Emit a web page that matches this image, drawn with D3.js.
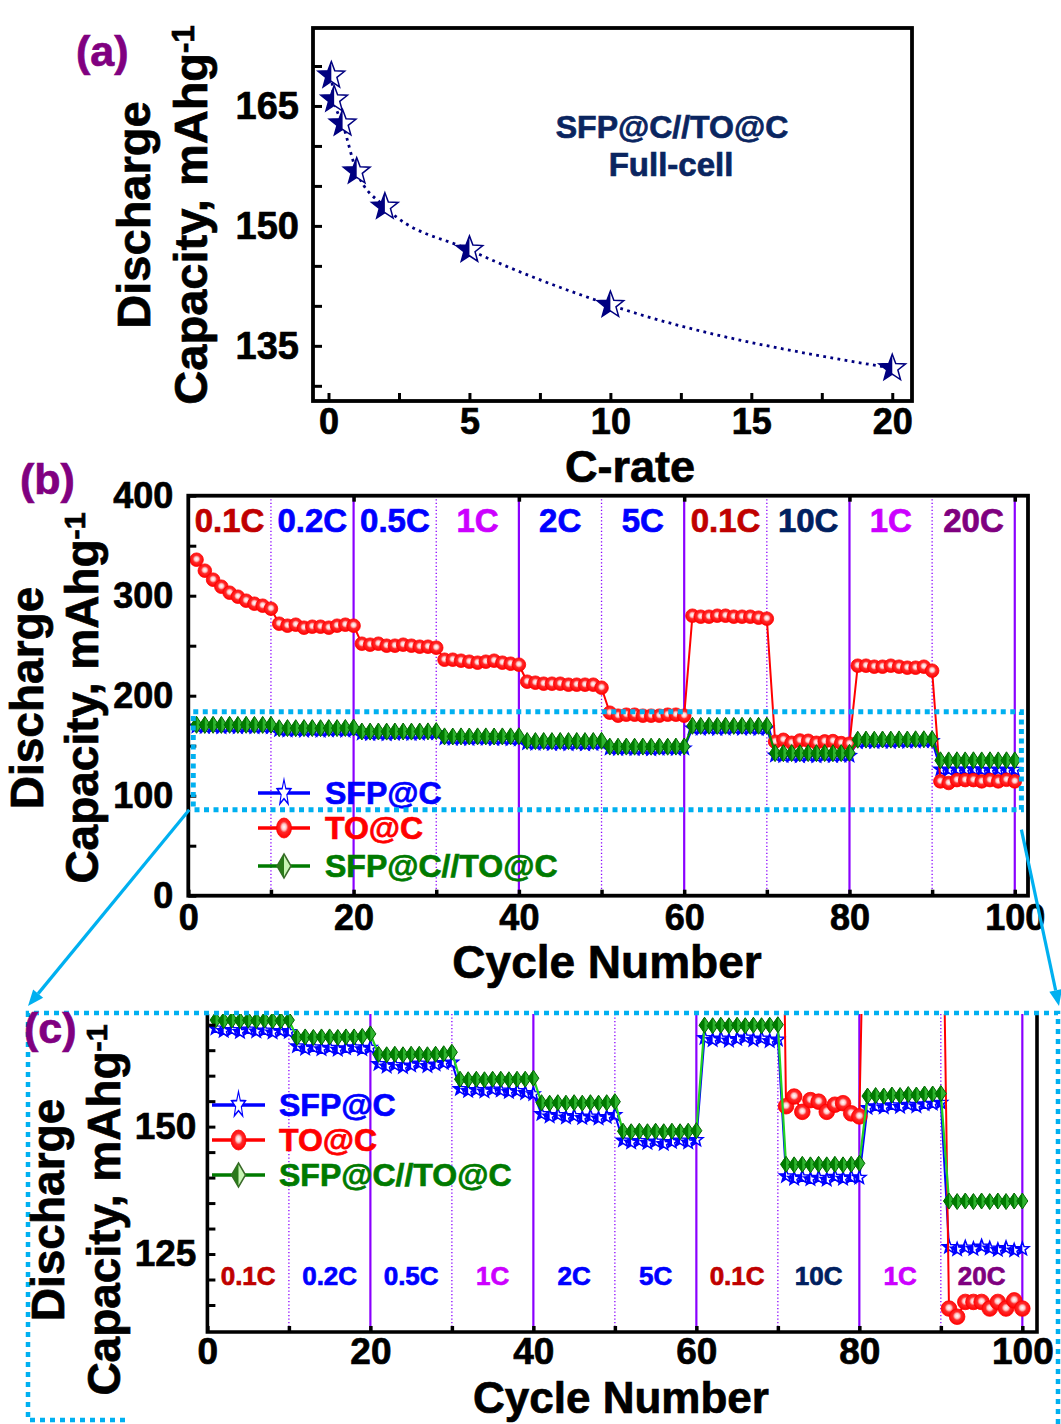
<!DOCTYPE html>
<html>
<head>
<meta charset="utf-8">
<script src="https://cdnjs.cloudflare.com/ajax/libs/d3/7.8.5/d3.min.js"></script>
<style>
  body { margin: 0; background: #fff; }
  text { font-family: "Liberation Sans", Arial, sans-serif; font-weight: bold; }
</style>
</head>
<body>
<div id="chart"></div>
<script>
// ---- data ----
var cRate = [0.1, 0.2, 0.5, 1, 2, 5, 10, 20]
var cRateCap = [168.8, 165.8, 162.8, 156.8, 152.4, 147.0, 140.1, 132.2]

var cycles = d3.range(1, 101)

var sfp = [169.3,168.8,169.0,168.6,169.1,168.7,168.9,168.5,168.8,168.6,
           165.8,165.3,165.6,165.2,165.5,165.1,165.4,165.6,165.2,165.5,
           162.3,161.8,162.1,161.7,162.0,162.4,161.9,162.2,162.5,162.6,
           157.4,157.0,157.2,156.9,157.3,157.1,156.8,157.0,156.6,156.4,
           152.5,152.0,152.3,151.8,152.1,151.7,152.0,151.6,151.9,152.3,
           147.3,146.9,147.2,146.8,147.1,146.6,147.0,147.3,146.9,147.4,
           167.4,167.0,167.3,166.9,167.2,167.5,167.0,167.3,166.8,167.1,
           140.3,139.8,140.1,139.7,140.0,139.6,140.2,139.8,140.1,140.0,
           153.7,154.0,153.8,154.2,153.9,154.3,154.0,154.4,154.5,154.7,
           126.4,125.9,126.3,126.0,126.5,126.1,125.8,126.2,125.7,126.0]

var toc = [336,325,316,309,303,299,295,292,290,287,
           272,270,271,268,269,269,268,270,271,270,
           252,251,252,250,250,251,250,249,249,248,
           236,236,235,234,233,234,235,233,232,231,
           214,213,212,212,212,211,211,211,211,208,
           183,180,181,181,180,180,180,181,181,180,
           280,279,279,280,280,279,279,279,278,277,
           154.0,155.9,152.9,155.2,154.9,152.9,154.3,154.6,152.6,152.0,
           230,230,229,229,230,229,228,228,229,225,
           114.3,112.7,115.6,115.6,115.6,114.3,115.6,114.3,115.9,114.3]

var full = [170.9,170.8,170.9,170.8,170.9,170.8,170.9,170.8,170.8,170.9,
            167.5,167.6,167.5,167.6,167.6,167.5,167.6,167.6,167.7,168.2,
            164.2,164.1,164.2,164.1,164.2,164.2,164.1,164.2,164.3,164.6,
            159.3,159.2,159.3,159.2,159.3,159.3,159.2,159.3,159.3,159.5,
            154.7,154.6,154.7,154.6,154.7,154.6,154.7,154.6,154.7,154.9,
            149.1,149.0,149.1,149.0,149.1,149.0,149.1,149.0,149.1,149.2,
            169.9,169.8,169.9,169.8,169.9,169.8,169.9,169.8,169.9,170.0,
            142.6,142.5,142.6,142.5,142.6,142.5,142.6,142.5,142.6,142.8,
            156.0,156.1,156.0,156.2,156.1,156.3,156.2,156.4,156.4,156.5,
            135.4,135.3,135.4,135.3,135.4,135.3,135.4,135.3,135.4,135.4]

var rateLabels = ["0.1C", "0.2C", "0.5C", "1C", "2C", "5C", "0.1C", "10C", "1C", "20C"]
var stageEdges = [10, 20, 30, 40, 50, 60, 70, 80, 90, 100]
var seriesNames = ["SFP@C", "TO@C", "SFP@C//TO@C"]

var aTicksX = [0, 5, 10, 15, 20]
var aMinorX = [0, 2.5, 5, 7.5, 10, 12.5, 15, 17.5, 20]
var aTicksY = [135, 150, 165]
var aMinorY = [130, 135, 140, 145, 150, 155, 160, 165, 170]
var bTicksY = [0, 100, 200, 300, 400]
var bMinorY = [0, 50, 100, 150, 200, 250, 300, 350, 400]
var cycleTicks = [0, 20, 40, 60, 80, 100]
var cycleMinor = [0, 10, 20, 30, 40, 50, 60, 70, 80, 90, 100]
var cTicksY = [125, 150]
var cMinorY = [115, 120, 125, 130, 135, 140, 145, 150, 155, 160, 165, 170]

// zoomed window of (b) shown in (c), in data units
var zoomWin = { x0: 0.6, x1: 100.8, y0: 86, y1: 184 }

// ---- styles ----
var rateColors = ["#c00000", "#0000ff", "#0000ff", "#cc00ff", "#0000ff", "#0000ff", "#c00000", "#002060", "#cc00ff", "#7f007f"]
var blue = "#0000ff", red = "#ff0000", green = "#007a00", navy = "#000080", violet = "#8a00ff", cyan = "#00b0f0"

var svg = d3.select("#chart").append("svg")
    .attr("width", 1061)
    .attr("height", 1424)

var defs = svg.append("defs")
defs.append("clipPath").attr("id", "leftHalf")
    .append("rect").attr("x", -60).attr("y", -60).attr("width", 60).attr("height", 120)
var grad = defs.append("radialGradient").attr("id", "ball")
    .attr("cx", "50%").attr("cy", "45%").attr("r", "55%")
grad.append("stop").attr("offset", "0%").attr("stop-color", "#ffffff")
grad.append("stop").attr("offset", "28%").attr("stop-color", "#ffc8c8")
grad.append("stop").attr("offset", "50%").attr("stop-color", "#ff2a2a")
grad.append("stop").attr("offset", "100%").attr("stop-color", "#ff0000")

function starPath(R) {
    var pts = []
    for (var i = 0; i < 10; i++) {
        var r = i % 2 ? R * 0.42 : R
        var a = -Math.PI / 2 + i * Math.PI / 5
        pts.push([r * Math.cos(a), r * Math.sin(a)])
    }
    return "M" + pts.join("L") + "Z"
}
function diamondPath(w, h) {
    return "M0," + (-h) + "L" + w + ",0L0," + h + "L" + (-w) + ",0Z"
}

function addStar(g, R, color, open) {
    g.append("path").attr("d", starPath(R)).attr("fill", "#fff")
        .attr("stroke", color).attr("stroke-width", 1.5).attr("stroke-linejoin", "miter")
    if (!open)
        g.append("path").attr("d", starPath(R)).attr("fill", color).attr("clip-path", "url(#leftHalf)")
}
function addBall(g, rx, ry) {
    g.append("ellipse").attr("rx", rx).attr("ry", ry).attr("fill", "url(#ball)")
        .attr("stroke", "#ff0000").attr("stroke-width", 0.8)
}
function addDiamond(g, w, h, light) {
    g.append("path").attr("d", diamondPath(w, h)).attr("fill", light)
        .attr("stroke", "#006400").attr("stroke-width", 1)
    g.append("path").attr("d", diamondPath(w, h)).attr("fill", green).attr("clip-path", "url(#leftHalf)")
}

function styleAxis(g, size, width) {
    g.select(".domain").remove()
    g.attr("font-family", null).attr("font-size", null)
    g.selectAll(".tick line").attr("stroke", "#000").attr("stroke-width", width)
    g.selectAll(".tick text").attr("fill", "#000").style("font-size", size + "px")
}

function yTitle(x1, x2, cy, size) {
    svg.append("text").attr("transform", "translate(" + x1 + "," + cy + ") rotate(-90)")
        .attr("text-anchor", "middle").style("font-size", size + "px").text("Discharge")
    var t = svg.append("text").attr("transform", "translate(" + x2 + "," + cy + ") rotate(-90)")
        .attr("text-anchor", "middle").style("font-size", size + "px")
    t.append("tspan").text("Capacity, mAhg")
    t.append("tspan").attr("dy", "-0.42em").style("font-size", (size * 0.66) + "px").text("-1")
}

function panelLetter(txt, x, y) {
    svg.append("text").attr("x", x).attr("y", y).attr("fill", "#800080")
        .style("font-size", "43px").text(txt)
}

// ================= (a) =================
var ax = d3.scaleLinear().domain([-0.55, 20.7]).range([313, 912])
var ay = d3.scaleLinear().domain([128.1, 174.75]).range([401, 28])

var ga = svg.append("g")
var aLine = d3.line()
    .x(function (d, i) { return ax(cRate[i]) })
    .y(function (d) { return ay(d) })
    .curve(d3.curveMonotoneX)
ga.append("path").datum(cRateCap).attr("d", aLine)
    .attr("fill", "none").attr("stroke", navy).attr("stroke-width", 2.8)
    .attr("stroke-dasharray", "2.8,4.4")
ga.selectAll(".astar").data(cRateCap).enter().append("g")
    .attr("transform", function (d, i) { return "translate(" + ax(cRate[i]) + "," + ay(d) + ")" })
    .each(function () { addStar(d3.select(this), 14, navy, false) })

ga.append("text").attr("x", 672).attr("y", 138).attr("text-anchor", "middle")
    .attr("fill", "#0a2560").style("font-size", "32px").text("SFP@C//TO@C")
ga.append("text").attr("x", 671).attr("y", 176).attr("text-anchor", "middle")
    .attr("fill", "#0a2560").style("font-size", "33px").text("Full-cell")

ga.append("rect").attr("x", 313).attr("y", 28).attr("width", 599).attr("height", 373)
    .attr("fill", "none").attr("stroke", "#000").attr("stroke-width", 3.8)

var axB = ga.append("g").attr("transform", "translate(0,401)")
    .call(d3.axisBottom(ax).tickValues(aMinorX).tickSize(-8).tickFormat(""))
styleAxis(axB, 38, 3)
var axBL = ga.append("g").attr("transform", "translate(0,401)")
    .call(d3.axisBottom(ax).tickValues(aTicksX).tickSize(0).tickPadding(7))
styleAxis(axBL, 36, 0)
var ayL = ga.append("g").attr("transform", "translate(313,0)")
    .call(d3.axisLeft(ay).tickValues(aMinorY).tickSize(-9).tickFormat(""))
styleAxis(ayL, 38, 3)
var ayLL = ga.append("g").attr("transform", "translate(313,0)")
    .call(d3.axisLeft(ay).tickValues(aTicksY).tickSize(0).tickPadding(14))
styleAxis(ayLL, 38, 0)

svg.append("text").attr("x", 630).attr("y", 482).attr("text-anchor", "middle")
    .style("font-size", "45px").text("C-rate")
yTitle(150, 207, 215, 47)
panelLetter("(a)", 76, 66)

// ========== shared drawing for (b) and (c) ==========
function drawCycling(cfg) {
    var x = d3.scaleLinear().domain(cfg.xd).range([cfg.left, cfg.right])
    var y = d3.scaleLinear().domain(cfg.yd).range([cfg.bottom, cfg.top])
    var g = svg.append("g")

    defs.append("clipPath").attr("id", cfg.id)
        .append("rect").attr("x", cfg.left).attr("y", cfg.top)
        .attr("width", cfg.right - cfg.left).attr("height", cfg.bottom - cfg.top)

    // stage boundaries
    g.selectAll(".stage").data(stageEdges).enter().append("line")
        .attr("x1", function (d) { return x(d) }).attr("x2", function (d) { return x(d) })
        .attr("y1", cfg.top).attr("y2", cfg.bottom)
        .attr("stroke", violet)
        .attr("stroke-width", function (d, i) { return i % 2 ? 2.2 : 1.3 })
        .attr("stroke-dasharray", function (d, i) { return i % 2 ? null : "1.3,2.2" })

    // rate labels
    g.selectAll(".rate").data(rateLabels).enter().append("text")
        .attr("x", function (d, i) { return x(stageEdges[i] - 5) })
        .attr("y", cfg.rateY).attr("text-anchor", "middle")
        .attr("fill", function (d, i) { return rateColors[i] })
        .style("font-size", cfg.rateSize + "px")
        .text(function (d) { return d })

    var dg = g.append("g").attr("clip-path", "url(#" + cfg.id + ")")
    var line = d3.line()
        .x(function (d, i) { return x(cycles[i]) })
        .y(function (d) { return y(d) })
    var place = function (d, i) { return "translate(" + x(cycles[i]) + "," + y(d) + ")" }

    dg.append("path").datum(sfp).attr("d", line).attr("fill", "none")
        .attr("stroke", blue).attr("stroke-width", 2)
    dg.selectAll(".s").data(sfp).enter().append("g").attr("transform", place)
        .each(function () { addStar(d3.select(this), cfg.starR, blue, false) })

    dg.append("path").datum(toc).attr("d", line).attr("fill", "none")
        .attr("stroke", red).attr("stroke-width", 2)
    dg.selectAll(".t").data(toc).enter().append("g").attr("transform", place)
        .each(function () { addBall(d3.select(this), cfg.ballR, cfg.ballR) })

    dg.append("path").datum(full).attr("d", line).attr("fill", "none")
        .attr("stroke", cfg.greenLine).attr("stroke-width", 2.2)
    dg.selectAll(".f").data(full).enter().append("g").attr("transform", place)
        .each(function () { addDiamond(d3.select(this), cfg.diaW, cfg.diaH, "#2fb52f") })

    // legend
    var lg = g.append("g")
    var colors = [blue, red, "#007a00"]
    seriesNames.forEach(function (name, i) {
        var ly = cfg.legY[i]
        lg.append("line").attr("x1", cfg.legX0).attr("x2", cfg.legX1)
            .attr("y1", ly).attr("y2", ly).attr("stroke", colors[i]).attr("stroke-width", 3.5)
        var m = lg.append("g").attr("transform", "translate(" + ((cfg.legX0 + cfg.legX1) / 2) + "," + ly + ")")
        if (i == 0) {
            var ms = m.append("g").attr("transform", "scale(0.72,1.35)")
            addStar(ms, 10, blue, true)
        } else if (i == 1) {
            addBall(m, 7.5, 10)
        } else {
            m.append("path").attr("d", diamondPath(7, 12)).attr("fill", "#c8f5b4")
                .attr("stroke", "#3a6a2a").attr("stroke-width", 1.5)
            m.append("path").attr("d", diamondPath(7, 12)).attr("fill", "#2a7a1a").attr("clip-path", "url(#leftHalf)")
        }
        lg.append("text").attr("x", cfg.legText).attr("y", ly + 11)
            .attr("fill", colors[i]).style("font-size", "32px").text(name)
    })

    // frame
    if (cfg.fullFrame) {
        g.append("rect").attr("x", cfg.left).attr("y", cfg.top)
            .attr("width", cfg.right - cfg.left).attr("height", cfg.bottom - cfg.top)
            .attr("fill", "none").attr("stroke", "#000").attr("stroke-width", 3.8)
    } else {
        g.append("path").attr("d", "M" + cfg.left + "," + cfg.top + "V" + cfg.bottom + "H" + cfg.right + "V" + cfg.top)
            .attr("fill", "none").attr("stroke", "#000").attr("stroke-width", 3.6)
    }

    // axes
    var xb = g.append("g").attr("transform", "translate(0," + cfg.bottom + ")")
        .call(d3.axisBottom(x).tickValues(cycleMinor).tickSize(-6).tickFormat(""))
    styleAxis(xb, 36, 3.5)
    var xbl = g.append("g").attr("transform", "translate(0," + cfg.bottom + ")")
        .call(d3.axisBottom(x).tickValues(cycleTicks).tickSize(0).tickPadding(cfg.xPad))
    styleAxis(xbl, cfg.tickSize, 0)
    if (cfg.fullFrame) {
        var xt = g.append("g").attr("transform", "translate(0," + cfg.top + ")")
            .call(d3.axisTop(x).tickValues(cycleTicks.slice(1)).tickSize(-6).tickFormat(""))
        styleAxis(xt, 36, 3.5)
    }
    var yl = g.append("g").attr("transform", "translate(" + cfg.left + ",0)")
        .call(d3.axisLeft(y).tickValues(cfg.yMinor).tickSize(-8).tickFormat(""))
    styleAxis(yl, 36, 3)
    var yll = g.append("g").attr("transform", "translate(" + cfg.left + ",0)")
        .call(d3.axisLeft(y).tickValues(cfg.yTicks).tickSize(0).tickPadding(cfg.yPad))
    styleAxis(yll, cfg.tickSize, 0)

    svg.append("text").attr("x", cfg.xTitleX).attr("y", cfg.xTitleY).attr("text-anchor", "middle")
        .style("font-size", cfg.titleSize + "px").text("Cycle Number")

    return { x: x, y: y }
}

// ================= (b) =================
var pb = drawCycling({
    id: "clipB", left: 188.3, right: 1028, top: 495.7, bottom: 895.7,
    xd: [0, 101.6], yd: [0, 400], yTicks: bTicksY, yMinor: bMinorY,
    tickSize: 36, xPad: 9, yPad: 15,
    rateY: 532, rateSize: 33,
    starR: 7, ballR: 6.8, diaW: 5.5, diaH: 8.5, greenLine: "#008a00",
    legX0: 258, legX1: 310, legText: 325, legY: [793, 828, 866],
    fullFrame: true, xTitleX: 607, xTitleY: 978, titleSize: 46
})

// zoom window in (b)
svg.append("rect")
    .attr("x", pb.x(zoomWin.x0)).attr("y", pb.y(zoomWin.y1))
    .attr("width", pb.x(zoomWin.x1) - pb.x(zoomWin.x0))
    .attr("height", pb.y(zoomWin.y0) - pb.y(zoomWin.y1))
    .attr("fill", "none").attr("stroke", cyan).attr("stroke-width", 5)
    .attr("stroke-dasharray", "5,4.5")

yTitle(43, 98, 698, 46)
panelLetter("(b)", 20, 494)

// ================= (c) =================
var pc = drawCycling({
    id: "clipC", left: 207.4, right: 1037, top: 1014, bottom: 1332,
    xd: [0, 101.8], yd: [109.7, 172.1], yTicks: cTicksY, yMinor: cMinorY,
    tickSize: 37, xPad: 6, yPad: 11,
    rateY: 1285, rateSize: 26,
    starR: 7, ballR: 7.8, diaW: 5.5, diaH: 8, greenLine: "#22d322",
    legX0: 212, legX1: 265, legText: 279, legY: [1105, 1140, 1175],
    fullFrame: false, xTitleX: 621, xTitleY: 1413, titleSize: 44
})

// outer dotted box around (c)
var dot = svg.append("g").attr("fill", "none").attr("stroke", cyan)
    .attr("stroke-width", 4.5).attr("stroke-dasharray", "5,5")
dot.append("path").attr("d", "M125,1420H28V1013H1058V1424")

// connector arrows from (b) window to (c) box
var arrowData = [
    { x1: pb.x(zoomWin.x0) - 4, y1: pb.y(zoomWin.y0), x2: 28, y2: 1006 },
    { x1: pb.x(zoomWin.x1), y1: pb.y(zoomWin.y0) + 20, x2: 1059, y2: 1006 }
]
arrowData.forEach(function (a) {
    var ang = Math.atan2(a.y2 - a.y1, a.x2 - a.x1)
    var L = 16, Wd = 6.5
    var bx = a.x2 - L * Math.cos(ang), by = a.y2 - L * Math.sin(ang)
    svg.append("line").attr("x1", a.x1).attr("y1", a.y1).attr("x2", bx).attr("y2", by)
        .attr("stroke", cyan).attr("stroke-width", 3.2)
    svg.append("path")
        .attr("d", "M" + a.x2 + "," + a.y2 +
            "L" + (bx + Wd * Math.sin(ang)) + "," + (by - Wd * Math.cos(ang)) +
            "L" + (bx - Wd * Math.sin(ang)) + "," + (by + Wd * Math.cos(ang)) + "Z")
        .attr("fill", cyan)
})

yTitle(64, 120, 1210, 46)
panelLetter("(c)", 24, 1043)

// heavier lettering, like the original figure
svg.selectAll("text").each(function () {
    var t = d3.select(this)
    t.attr("stroke", t.attr("fill") || "#000").attr("stroke-width", 0.7)
})
</script>
</body>
</html>
